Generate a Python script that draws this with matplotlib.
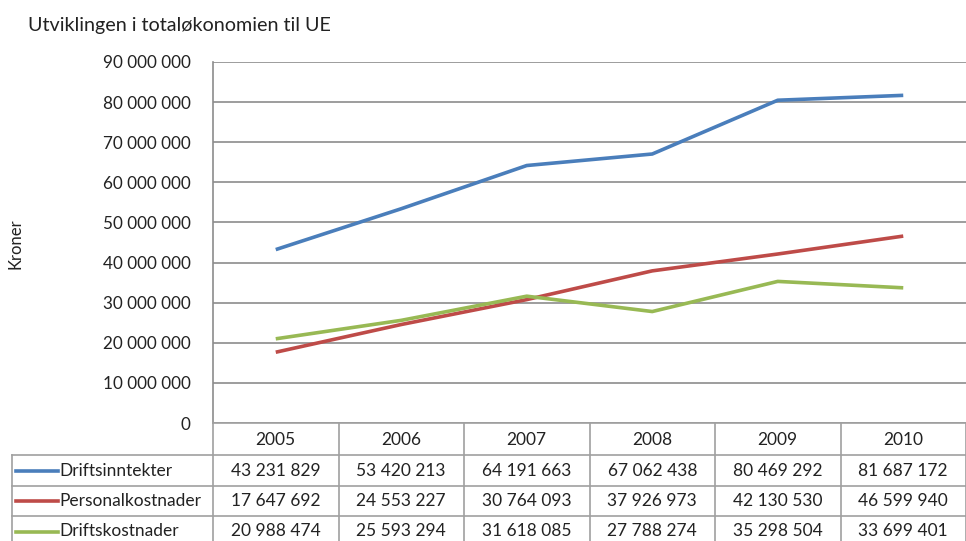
import matplotlib.pyplot as plt
import matplotlib.transforms as mtransforms
import numpy as np

# data
years = ['2005', '2006', '2007', '2008', '2009', '2010']
driftsinntekter = [43231829, 53420213, 64191663, 67062438, 80469292, 81687172]
personalkostnader = [17647692, 24553227, 30764093, 37926973, 42130530, 46599940]
driftskostnader = [20988474, 25593294, 31618085, 27788274, 35298504, 33699401]
serier = ['Driftsinntekter', 'Personalkostnader', 'Driftskostnader']
farger = ['#4A7EBB', '#BE4B48', '#98B954']
verdier = [driftsinntekter, personalkostnader, driftskostnader]

plt.rcParams['font.family'] = ['Lato', 'DejaVu Sans']

W, H = 966, 541
fig = plt.figure(figsize=(W / 100, H / 100), dpi=100)
venstre, hoyre, topp, bunn = 213, 966, 62, 423
ax = fig.add_axes([venstre / W, 1 - bunn / H, (hoyre - venstre) / W, (bunn - topp) / H])

x = np.arange(len(years))
for v, c in zip(verdier, farger):
    ax.plot(x, v, color=c, lw=2.6, solid_capstyle='butt', zorder=3)

ax.set_xlim(-0.5, len(years) - 0.5)
ax.set_ylim(0, 90000000)
ticks = np.arange(0, 90000001, 10000000)
ax.set_yticks(ticks)
ax.set_yticklabels(['{:,}'.format(int(t)).replace(',', ' ') for t in ticks], fontsize=12.3, color='#222222')
ax.set_xticks([])
ax.tick_params(axis='y', length=0, pad=16)
ax.grid(axis='y', color='#8C8C8C', lw=1.2)
ax.set_axisbelow(True)
for s in ['top', 'right', 'bottom']:
    ax.spines[s].set_visible(False)
ax.spines['left'].set_color('#8C8C8C')
ax.spines['left'].set_linewidth(1.2)

fig.text(28 / W, 1 - 25 / H, 'Utviklingen i totaløkonomien til UE', fontsize=14.2, va='center', ha='left', color='#222222')
fig.text(16 / W, 1 - 244 / H, 'Kroner', fontsize=12, rotation=90, va='center', ha='center', color='#222222')

# datatabell under aksen
tr = mtransforms.blended_transform_factory(ax.transData, fig.transFigure)
fy = lambda py: 1 - py / H
fx = lambda px: px / W
rader = [423, 455, 486, 516, 547]
grå = '#A0A0A0'
kant = [-0.5 + i for i in range(len(years) + 1)]
for xb in kant:
    fig.add_artist(plt.Line2D([xb, xb], [fy(rader[0]), fy(rader[-1])], transform=tr, color=grå, lw=1.2))
for i, ry in enumerate(rader):
    x0 = venstre if i == 0 else 12
    fig.add_artist(plt.Line2D([fx(x0), fx(966)], [fy(ry), fy(ry)], transform=fig.transFigure, color=grå, lw=1.2))
fig.add_artist(plt.Line2D([fx(12), fx(12)], [fy(rader[1]), fy(rader[-1])], transform=fig.transFigure, color=grå, lw=1.2))

fs = 12.5
for j, yr in enumerate(years):
    fig.text(j, fy((rader[0] + rader[1]) / 2 + 1), yr, transform=tr, ha='center', va='center', fontsize=fs, color='#222222')
for i, (navn, v, c) in enumerate(zip(serier, verdier, farger)):
    ym = fy((rader[i + 1] + rader[i + 2]) / 2)
    fig.add_artist(plt.Line2D([fx(16), fx(58)], [ym, ym], transform=fig.transFigure, color=c, lw=2.6))
    fig.text(fx(59), ym, navn, ha='left', va='center', fontsize=fs, color='#222222')
    for j, val in enumerate(v):
        fig.text(j, ym, '{:,}'.format(val).replace(',', ' '), transform=tr, ha='center', va='center', fontsize=fs, color='#222222')

fig.savefig('out.png', dpi=100)
